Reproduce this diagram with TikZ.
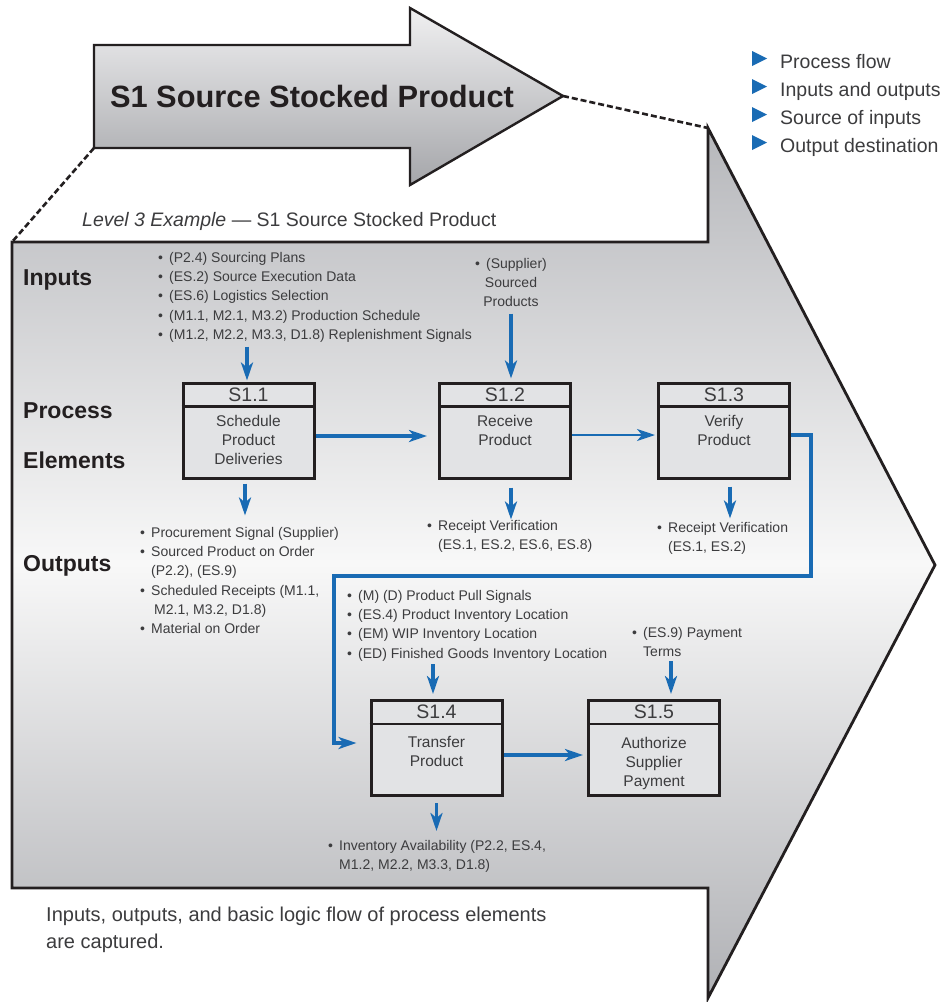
\documentclass[tikz,border=0pt]{standalone}
\usepackage{fontspec}
\setmainfont{Liberation Sans}
\usetikzlibrary{arrows.meta,calc}
\definecolor{flowblue}{RGB}{25,107,180}
\definecolor{boxfill}{RGB}{226,227,229}
\definecolor{inkline}{RGB}{35,31,32}
\definecolor{txt}{RGB}{60,60,62}
\definecolor{bigtop}{RGB}{182,183,187}
\definecolor{bigmid}{RGB}{248,248,248}
\definecolor{bigbot}{RGB}{176,177,181}
\definecolor{arrtop}{RGB}{240,240,241}
\definecolor{arrbot}{RGB}{165,166,170}
\newcommand{\mybul}{\makebox[11pt][l]{•}}
\newcommand{\myind}{\hspace*{11pt}}
\tikzset{
  flow/.style={draw=flowblue, line width=3.2pt, -{Stealth[length=18pt,width=12pt,inset=5pt]}},
  pbox/.style={draw=inkline, line width=3pt, fill=boxfill, minimum width=131pt, minimum height=95pt, inner sep=0pt},
  hdr/.style={font=\fontsize{19.5}{22}\selectfont, text=txt, inner sep=0pt},
  bodytxt/.style={font=\fontsize{15.5}{19}\selectfont, text=txt, align=center, inner sep=0pt, anchor=north},
  small/.style={font=\fontsize{14}{19.3}\selectfont, text=txt, align=left, inner sep=0pt, anchor=north west},
  rowlabel/.style={font=\fontsize{23}{26}\selectfont\bfseries, text=inkline, inner sep=0pt, anchor=base west},
  legtxt/.style={font=\fontsize{19.5}{22}\selectfont, text=txt, inner sep=0pt, anchor=base west},
  dashline/.style={draw=inkline, line width=2.6pt, dash pattern=on 6pt off 3pt},
  outline/.style={draw=inkline, line width=2.8pt, line join=miter}
}
\begin{document}
\begin{tikzpicture}[x=1pt,y=-1pt]
\useasboundingbox[fill=white] (0,0) rectangle (941,1002);

% big shape (level 3 frame)
\coordinate (bigTL) at (12,242);
\coordinate (bigHT) at (708,128);
\draw[outline, top color=bigtop, bottom color=bigbot, middle color=bigmid]
  (bigTL) -- (708,242) -- (bigHT) -- (935,565) -- (708,998) -- (708,888) -- (12,888) -- cycle;

% top arrow
\coordinate (arrBL) at (94,148);
\coordinate (arrTip) at (563,96);
\draw[outline, line width=2.4pt, top color=arrtop, bottom color=arrbot]
  (94,45) -- (410,45) -- (410,8) -- (arrTip) -- (410,185) -- (410,148) -- (arrBL) -- cycle;
\node[font=\fontsize{30.8}{36}\selectfont\bfseries, text=inkline] (title) at (312,96) {S1 Source Stocked Product};

% dashed zoom lines
\draw[dashline] (arrBL) -- (bigTL);
\draw[dashline] (arrTip) -- (bigHT);

% legend
\foreach \i/\t in {0/Process flow,1/Inputs and outputs,2/Source of inputs,3/Output destination}{
  \fill[flowblue] (752,51+28*\i) -- (752,66+28*\i) -- (767,58.5+28*\i) -- cycle;
  \node[legtxt] (leg\i) at (780,68+28*\i) {\t};
}

% caption of level 3
\node[font=\fontsize{19.5}{22}\selectfont, text=txt, inner sep=0pt, anchor=base west] (lvl) at (82,226)
  {\textit{Level 3 Example} — S1 Source Stocked Product};

% row labels
\node[rowlabel] (linputs) at (23,285) {Inputs};
\node[rowlabel] (lprocess) at (23,418) {Process};
\node[rowlabel] (lelements) at (23,468) {Elements};
\node[rowlabel] (loutputs) at (23,571) {Outputs};

% process boxes
\foreach \n/\x/\y/\lab in {s11/248.5/430.5/S1.1, s12/505/430.5/S1.2, s13/724/430.5/S1.3, s14/436.5/748/S1.4, s15/654/748/S1.5}{
  \node[pbox] (\n) at (\x,\y) {};
  \draw[draw=inkline, line width=2.8pt] ([yshift=-25pt]\n.north west) -- ([yshift=-25pt]\n.north east);
  \node[hdr] (\n h) at ([yshift=-13pt]\n.north) {\lab};
}
\node[bodytxt] (s11t) at ([yshift=-34pt]s11.north) {Schedule\\Product\\Deliveries};
\node[bodytxt] (s12t) at ([yshift=-34pt]s12.north) {Receive\\Product};
\node[bodytxt] (s13t) at ([yshift=-34pt]s13.north) {Verify\\Product};
\node[bodytxt] (s14t) at ([yshift=-37pt]s14.north) {Transfer\\Product};
\node[bodytxt] (s15t) at ([yshift=-38pt]s15.north) {Authorize\\Supplier\\Payment};

% inputs / outputs texts
\node[small] (in11) at (158,252) {\mybul(P2.4) Sourcing Plans\\
  \mybul(ES.2) Source Execution Data\\
  \mybul(ES.6) Logistics Selection\\
  \mybul(M1.1, M2.1, M3.2) Production Schedule\\
  \mybul(M1.2, M2.2, M3.3, D1.8) Replenishment Signals};
\node[small, align=center, anchor=north] (in12) at (511,258) {\mybul(Supplier)\\Sourced\\Products};
\node[small] (out11) at (140,527) {\mybul Procurement Signal (Supplier)\\
  \mybul Sourced Product on Order\\
  \myind(P2.2), (ES.9)\\
  \mybul Scheduled Receipts (M1.1,\\
  \myind\hspace*{3pt}M2.1, M3.2, D1.8)\\
  \mybul Material on Order};
\node[small] (out12) at (427,520) {\mybul Receipt Verification\\ \myind(ES.1, ES.2, ES.6, ES.8)};
\node[small] (out13) at (657,522) {\mybul Receipt Verification\\ \myind(ES.1, ES.2)};
\node[small] (in14) at (347,590) {\mybul(M) (D) Product Pull Signals\\
  \mybul(ES.4) Product Inventory Location\\
  \mybul(EM) WIP Inventory Location\\
  \mybul(ED) Finished Goods Inventory Location};
\node[small] (in15) at (632,627) {\mybul(ES.9) Payment\\ \myind Terms};
\node[small] (out14) at (328,840) {\mybul Inventory Availability (P2.2, ES.4,\\ \myind M1.2, M2.2, M3.3, D1.8)};

% vertical input / output arrows
\draw[flow] ([xshift=-1.5pt,yshift=35pt]s11.north) -- ([xshift=-1.5pt,yshift=1pt]s11.north);
\draw[flow] ([xshift=6pt,yshift=68pt]s12.north) -- ([xshift=6pt,yshift=3pt]s12.north);
\draw[flow] ([xshift=-3.5pt,yshift=-4pt]s11.south) -- ([xshift=-3.5pt,yshift=-36pt]s11.south);
\draw[flow] ([xshift=6pt,yshift=-8pt]s12.south) -- ([xshift=6pt,yshift=-40pt]s12.south);
\draw[flow] ([xshift=6pt,yshift=-7pt]s13.south) -- ([xshift=6pt,yshift=-39pt]s13.south);
\draw[flow] ([xshift=-3.5pt,yshift=35pt]s14.north) -- ([xshift=-3.5pt,yshift=5pt]s14.north);
\draw[flow] ([xshift=17pt,yshift=38pt]s15.north) -- ([xshift=17pt,yshift=5pt]s15.north);
\draw[flow] ([yshift=-6pt]s14.south) -- ([yshift=-34pt]s14.south);

% process flow arrows
\draw[flow, shorten >=11pt] ([yshift=-5.5pt]s11.east) -- ([yshift=-5.5pt]s12.west);
\draw[flow, line width=2.2pt, shorten >=2pt] ([yshift=-4.5pt]s12.east) -- ([yshift=-4.5pt]s13.west);
\coordinate (c1) at (811,576);
\coordinate (c2) at (334,576);
\draw[flow, shorten >=13pt, line join=miter] ([yshift=-4.5pt]s13.east) -| (c1) -- (c2) |- ([yshift=5pt]s14.west);
\draw[flow, shorten >=4pt] ([yshift=-7pt]s14.east) -- ([yshift=-7pt]s15.west);

% bottom caption
\node[font=\fontsize{20}{27}\selectfont, text=txt, align=left, inner sep=0pt, anchor=north west] (cap) at (46,907)
  {Inputs, outputs, and basic logic flow of process elements\\are captured.};
\end{tikzpicture}
\end{document}
